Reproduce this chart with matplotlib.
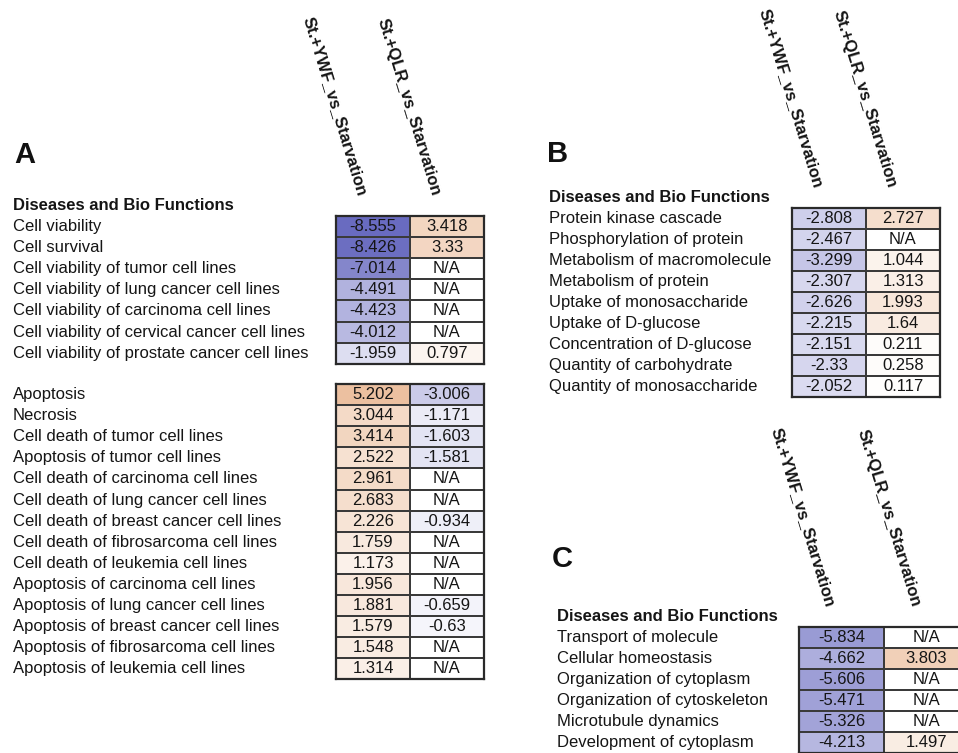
import numpy as np
import matplotlib
matplotlib.use("Agg")
import matplotlib.pyplot as plt
from matplotlib.colors import LinearSegmentedColormap, Normalize
from matplotlib import transforms

plt.rcParams['font.family'] = ['Liberation Sans', 'DejaVu Sans']

NA = np.nan
col_names = ["St.+YWF_vs_Starvation", "St.+QLR_vs_Starvation"]

# Panel A, first block
a1_terms = ["Cell viability", "Cell survival", "Cell viability of tumor cell lines",
            "Cell viability of lung cancer cell lines", "Cell viability of carcinoma cell lines",
            "Cell viability of cervical cancer cell lines", "Cell viability of prostate cancer cell lines"]
a1_ywf = [-8.555, -8.426, -7.014, -4.491, -4.423, -4.012, -1.959]
a1_qlr = [3.418, 3.33, NA, NA, NA, NA, 0.797]

# Panel A, second block
a2_terms = ["Apoptosis", "Necrosis", "Cell death of tumor cell lines", "Apoptosis of tumor cell lines",
            "Cell death of carcinoma cell lines", "Cell death of lung cancer cell lines",
            "Cell death of breast cancer cell lines", "Cell death of fibrosarcoma cell lines",
            "Cell death of leukemia cell lines", "Apoptosis of carcinoma cell lines",
            "Apoptosis of lung cancer cell lines", "Apoptosis of breast cancer cell lines",
            "Apoptosis of fibrosarcoma cell lines", "Apoptosis of leukemia cell lines"]
a2_ywf = [5.202, 3.044, 3.414, 2.522, 2.961, 2.683, 2.226, 1.759, 1.173, 1.956, 1.881, 1.579, 1.548, 1.314]
a2_qlr = [-3.006, -1.171, -1.603, -1.581, NA, NA, -0.934, NA, NA, NA, -0.659, -0.63, NA, NA]

# Panel B
b_terms = ["Protein kinase cascade", "Phosphorylation of protein", "Metabolism of macromolecule",
           "Metabolism of protein", "Uptake of monosaccharide", "Uptake of D-glucose",
           "Concentration of D-glucose", "Quantity of carbohydrate", "Quantity of monosaccharide"]
b_ywf = [-2.808, -2.467, -3.299, -2.307, -2.626, -2.215, -2.151, -2.33, -2.052]
b_qlr = [2.727, NA, 1.044, 1.313, 1.993, 1.64, 0.211, 0.258, 0.117]

# Panel C
c_terms = ["Transport of molecule", "Cellular homeostasis", "Organization of cytoplasm",
           "Organization of cytoskeleton", "Microtubule dynamics", "Development of cytoplasm"]
c_ywf = [-5.834, -4.662, -5.606, -5.471, -5.326, -4.213]
c_qlr = [NA, 3.803, NA, NA, NA, 1.497]

W, H = 958, 753
fig = plt.figure(figsize=(W / 100, H / 100), dpi=100)

cmap = LinearSegmentedColormap.from_list("z", ["#6264bd", "#ffffff", "#de925a"])
cmap.set_bad("white")
norm = Normalize(-9, 9)
TXT = "#151515"


def fx(x):
    return x / W


def fy(y):
    return 1 - y / H


def table(left, top, right, rowh, terms, ywf, qlr, label_x, heading=True, colhead=True):
    n = len(terms)
    bottom = top + n * rowh
    ax = fig.add_axes([fx(left), fy(bottom), fx(right - left), (bottom - top) / H])
    vals = np.ma.masked_invalid(np.array([ywf, qlr], dtype=float).T)
    ax.pcolormesh(vals, cmap=cmap, norm=norm, edgecolors="#3a3a3a", linewidth=1.2)
    ax.set_xlim(0, 2)
    ax.set_ylim(n, 0)
    ax.set_xticks([])
    ax.set_yticks([])
    for s in ax.spines.values():
        s.set_linewidth(1.6)
        s.set_color("#2a2a2a")
    for i in range(n):
        for j, v in enumerate([ywf[i], qlr[i]]):
            t = "N/A" if np.isnan(v) else str(v)
            ax.text(j + 0.5, i + 0.5, t, ha="center", va="center", fontsize=12, color=TXT)
    tr = transforms.blended_transform_factory(fig.transFigure, ax.transData)
    for i, term in enumerate(terms):
        ax.text(fx(label_x), i + 0.5, term, transform=tr, ha="left", va="center",
                fontsize=12, color=TXT)
    if heading:
        ax.text(fx(label_x), -0.5, "Diseases and Bio Functions", transform=tr, ha="left",
                va="center", fontsize=12, fontweight="bold", color=TXT)
    if colhead:
        colw = (right - left) / 2
        for j, name in enumerate(col_names):
            cx = left + colw * (j + 0.5) - 11
            fig.text(fx(cx), fy(top - 21), name, rotation=-73, rotation_mode="anchor",
                     ha="right", va="center", fontsize=12, fontweight="bold", color=TXT)
    return ax


table(336, 216, 484, 21.1, a1_terms, a1_ywf, a1_qlr, 13)
table(336, 384, 484, 21.1, a2_terms, a2_ywf, a2_qlr, 13, heading=False, colhead=False)
table(792, 208, 940, 21.0, b_terms, b_ywf, b_qlr, 549)
table(799, 627, 969, 21.0, c_terms, c_ywf, c_qlr, 557)

for letter, x, y in [("A", 14, 163), ("B", 547, 162), ("C", 552, 567)]:
    fig.text(fx(x), fy(y), letter, ha="left", va="baseline", fontsize=21,
             fontweight="bold", color="#111111")

fig.savefig("out.png", dpi=100)
